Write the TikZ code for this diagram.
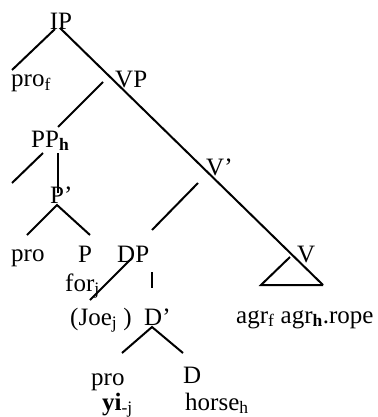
\documentclass[tikz,border=0pt]{standalone}
\usepackage{fontspec}
\setmainfont{Liberation Serif}
\newcommand{\sbx}[1]{\textsubscript{#1}}
\begin{document}
\begin{tikzpicture}[x=1pt,y=-1pt,
  lbl/.style={inner sep=0pt, anchor=base west, font=\fontsize{25}{27}\selectfont},
  br/.style={line width=2pt}]
\useasboundingbox (0,0) rectangle (377,417);

% labels
\node[lbl,anchor=base] (IP) at (61,30) {IP};
\node[lbl] (prof) at (11,87) {pro\sbx{f}};
\node[lbl] (VP) at (115,88) {VP};
\node[lbl] (PPh) at (31,147) {PP\sbx{\textbf{h}}};
\node[lbl] (Pbar) at (50,203) {P’};
\node[lbl] (pro1) at (11,261) {pro};
\node[lbl] (P) at (78,262) {P};
\node[lbl] (DP) at (117,262) {DP};
\node[lbl] (forj) at (65,291) {for\sbx{j}};
\node[lbl] (Vbar) at (206,175) {V’};
\node[lbl] (V) at (297,262) {V};
\node[lbl] (agr) at (236,323) {agr\sbx{f} agr\sbx{\textbf{h}}.rope};
\node[lbl] (Joe) at (70,325) {(Joe\sbx{j} )};
\node[lbl] (Dbar) at (144,325) {D’};
\node[lbl] (pro2) at (91,385) {pro};
\node[lbl] (yi) at (102,410) {\textbf{yi}\sbx{-j}};
\node[lbl] (D) at (183,383) {D};
\node[lbl] (horse) at (185,410) {horse\sbx{h}};

% branch end points
\coordinate (ipL) at (55,29);
\coordinate (ipR) at (60,28);
\coordinate (profT) at (12,70);
\coordinate (vpL) at (103,82);
\coordinate (ppT) at (58,127);
\coordinate (ppL) at (43,153);
\coordinate (ppLE) at (12,183);
\coordinate (ppM) at (58,153);
\coordinate (pbT) at (58,193);
\coordinate (pbB) at (57,205);
\coordinate (proT) at (27,235);
\coordinate (pT) at (90,235);
\coordinate (vbL) at (198,183);
\coordinate (vbLE) at (152,230);
\coordinate (dpB) at (132,258);
\coordinate (dpBE) at (90,300);
\coordinate (dpV1) at (152,272);
\coordinate (dpV2) at (152,288);
\coordinate (dbB) at (152,327);
\coordinate (pro2T) at (122,353);
\coordinate (dT) at (183,353);
\coordinate (triA) at (290,257);
\coordinate (triL) at (261,285);
\coordinate (triR) at (323,285);

% branches
\draw[br] (ipL) -- (profT);
\draw[br] (ipR) -- (triR);
\draw[br] (vpL) -- (ppT);
\draw[br] (ppL) -- (ppLE);
\draw[br] (ppM) -- (pbT);
\draw[br] (proT) -- (pbB) -- (pT);
\draw[br] (vbL) -- (vbLE);
\draw[br] (dpB) -- (dpBE);
\draw[br] (dpV1) -- (dpV2);
\draw[br] (pro2T) -- (dbB) -- (dT);
\draw[br] (triR) -- (triL) -- (triA);
\end{tikzpicture}
\end{document}
